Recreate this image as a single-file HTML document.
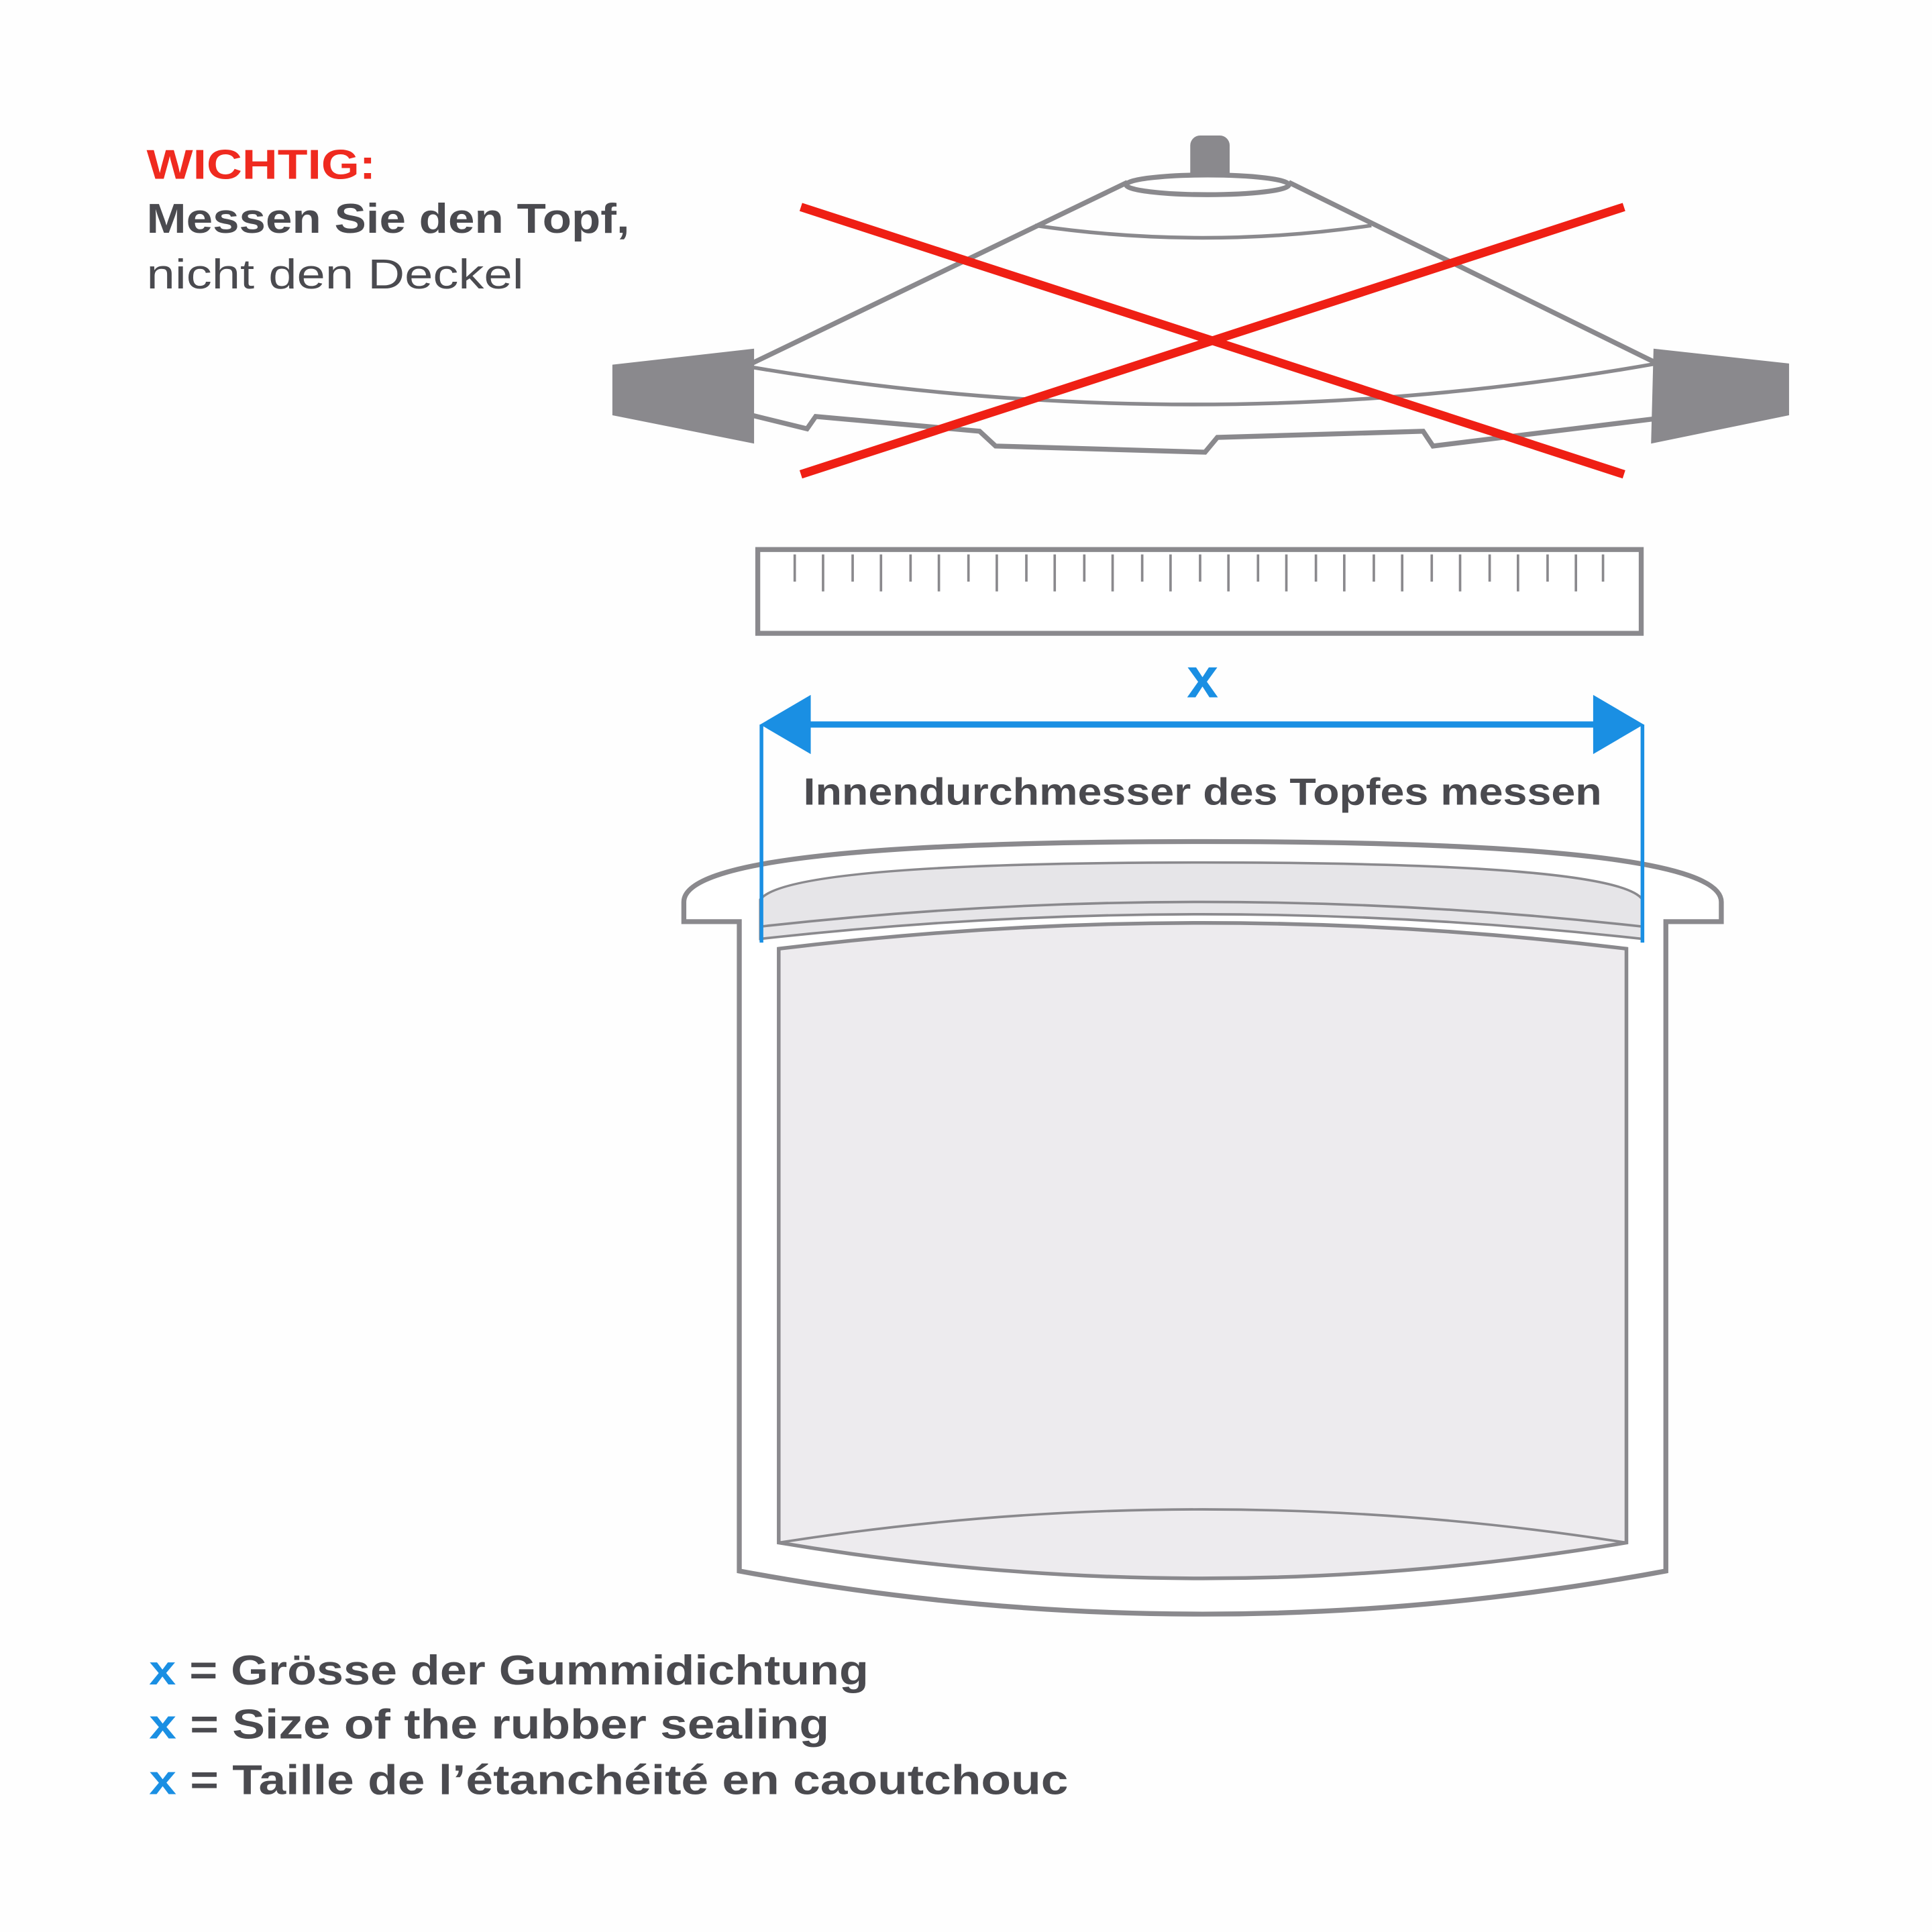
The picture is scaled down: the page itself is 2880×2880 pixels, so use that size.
<!DOCTYPE html>
<html><head><meta charset="utf-8"><style>
html,body{margin:0;padding:0;background:#fff}
svg{display:block}
text{font-family:"Liberation Sans",sans-serif}
</style></head><body>
<svg width="2880" height="2880" viewBox="0 0 1568 1568" xmlns="http://www.w3.org/2000/svg">
<rect width="1568" height="1568" fill="#fefefe"/>
<text x="119" y="145" font-size="34" font-weight="bold" fill="#ef2a1f" textLength="186" lengthAdjust="spacingAndGlyphs">WICHTIG:</text>
<text x="119" y="189" font-size="34" font-weight="bold" fill="#4a4a4f" textLength="392" lengthAdjust="spacingAndGlyphs">Messen Sie den Topf,</text>
<text x="119" y="234" font-size="34" fill="#4a4a4f" textLength="306" lengthAdjust="spacingAndGlyphs">nicht den Deckel</text>

<!-- lid -->
<g stroke="#8a898d" stroke-width="4" fill="none">
<rect x="966" y="110" width="32" height="38" rx="8" fill="#8a898d" stroke="none"/>
<ellipse cx="980" cy="150" rx="66" ry="8" fill="#fff"/>
<line x1="915" y1="148" x2="610" y2="295"/>
<line x1="1046" y1="148" x2="1345" y2="295"/>
<path d="M840,183 Q976,203 1113,183" stroke-width="3"/>
<path d="M610,298 Q976,360 1345,295" stroke-width="3"/>
<path d="M610,337 L655,348 L662,338 L795,350 L808,362 L978,367 L988,355 L1155,350 L1163,362 L1342,340"/>
</g>
<polygon points="497,296 612,283 612,360 497,337" fill="#8a898d"/>
<polygon points="1342,283 1452,295 1452,337 1340,360" fill="#8a898d"/>
<line x1="650" y1="168" x2="1318" y2="385" stroke="#ef1f14" stroke-width="7"/>
<line x1="650" y1="385" x2="1318" y2="168" stroke="#ef1f14" stroke-width="7"/>

<!-- ruler -->
<rect x="615" y="446" width="717" height="68" fill="#fff" stroke="#8a898d" stroke-width="4"/>
<g stroke="#8a898d" stroke-width="2">
<path d="M645,450v22 M668,450v30 M692,450v22 M715,450v30 M739,450v22 M762,450v30 M786,450v22 M809,450v30 M833,450v22 M856,450v30 M880,450v22 M903,450v30 M927,450v22 M950,450v30 M974,450v22 M997,450v30 M1021,450v22 M1044,450v30 M1068,450v22 M1091,450v30 M1115,450v22 M1138,450v30 M1162,450v22 M1185,450v30 M1209,450v22 M1232,450v30 M1256,450v22 M1279,450v30 M1301,450v22"/>
</g>

<!-- pot -->
<path d="M555,732 Q555,683 976,683 Q1397,683 1397,732 L1397,748 L1352,748 L1352,1275 Q976,1345 600,1275 L600,748 L555,748 Z" fill="#fff" stroke="#8a898d" stroke-width="4"/>
<path d="M617,762 L617,730 Q640,700 976,700 Q1312,700 1333,730 L1333,762 Q976,722 617,762 Z" fill="#e6e5e8" stroke="#8a898d" stroke-width="2"/>
<path d="M617,752 Q976,712 1333,752" fill="none" stroke="#8a898d" stroke-width="2"/>
<path d="M632,770 L632,1252 Q976,1310 1320,1252 L1320,770 Q976,728 632,770 Z" fill="#edebee" stroke="#8a898d" stroke-width="3"/>
<path d="M632,1252 Q976,1198 1320,1252" fill="none" stroke="#8a898d" stroke-width="2"/>

<!-- measure -->
<text x="976" y="566" font-size="46" font-weight="bold" fill="#1a8fe3" text-anchor="middle">x</text>
<g stroke="#1a8fe3" fill="#1a8fe3">
<line x1="650" y1="588" x2="1300" y2="588" stroke-width="5"/>
<line x1="618" y1="588" x2="618" y2="765" stroke-width="3"/>
<line x1="1333" y1="588" x2="1333" y2="765" stroke-width="3"/>
<polygon points="617,588 658,564 658,612" stroke="none"/>
<polygon points="1334,588 1293,564 1293,612" stroke="none"/>
</g>
<text x="652" y="653" font-size="31" font-weight="bold" fill="#4a4a4f" textLength="648" lengthAdjust="spacingAndGlyphs">Innendurchmesser des Topfes messen</text>

<!-- legend -->
<g font-size="34" font-weight="bold" fill="#4a4a4f">
<text x="121" y="1367" textLength="584" lengthAdjust="spacingAndGlyphs"><tspan fill="#1a8fe3">x</tspan> = Grösse der Gummidichtung</text>
<text x="121" y="1411" textLength="552" lengthAdjust="spacingAndGlyphs"><tspan fill="#1a8fe3">x</tspan> = Size of the rubber sealing</text>
<text x="121" y="1456" textLength="746" lengthAdjust="spacingAndGlyphs"><tspan fill="#1a8fe3">x</tspan> = Taille de l’étanchéité en caoutchouc</text>
</g>
</svg>
</body></html>
